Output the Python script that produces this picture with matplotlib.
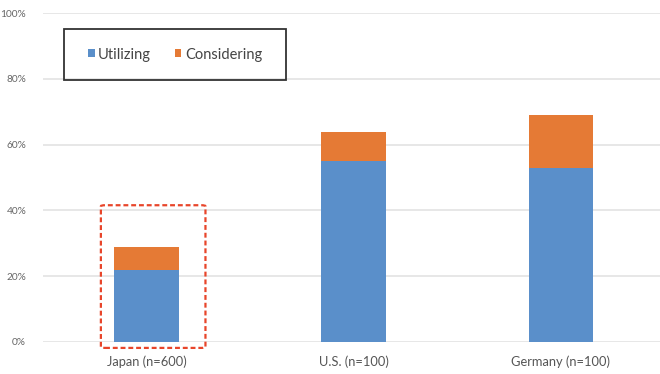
import matplotlib
matplotlib.use('Agg')
from matplotlib import pyplot as plt
from matplotlib.patches import FancyBboxPatch, Rectangle
from matplotlib.ticker import PercentFormatter
import numpy

countries = ['Japan (n=600)', 'U.S. (n=100)', 'Germany (n=100)']
utilizing = [22, 55, 53]
considering = [7, 9, 16]
yticks = [0, 20, 40, 60, 80, 100]

BLUE = '#5A8FCA'
ORANGE = '#E57A35'


def main():
    plt.rcParams['font.family'] = ['Lato', 'DejaVu Sans']
    fig = plt.figure(figsize=(6.6, 3.74), dpi=100)
    ax = fig.add_axes([0.065, 0.0856, 0.935, 0.879])

    x = numpy.arange(len(countries))
    ax.bar(x, utilizing, width=0.31, color=BLUE, label='Utilizing', zorder=3)
    ax.bar(x, considering, width=0.31, bottom=utilizing, color=ORANGE,
           label='Considering', zorder=3)

    ax.set_xlim(-0.5, 2.48)
    ax.set_ylim(0, 100)
    ax.set_yticks(yticks)
    ax.yaxis.set_major_formatter(PercentFormatter(decimals=0))
    ax.grid(axis='y', color='#E3E3E3', linewidth=1.2, zorder=0)
    for side in ['top', 'right', 'left', 'bottom']:
        ax.spines[side].set_visible(False)
    ax.tick_params(axis='y', length=0, labelsize=7.3, labelcolor='#666666', pad=12)
    ax.tick_params(axis='x', length=0, labelsize=9.3, labelcolor='#555555', pad=10)
    ax.set_xticks(x)
    ax.set_xticklabels(countries)

    # red dashed highlight round the Japan bar
    box = FancyBboxPatch((-0.22, -1.8), 0.505, 43.4,
                         boxstyle='round,pad=0,rounding_size=0.02',
                         mutation_aspect=15,
                         fill=False, edgecolor='#E8452A', linestyle=(0, (2.2, 1.3)),
                         linewidth=1.6, clip_on=False, zorder=4)
    ax.add_patch(box)

    # legend with its own square frame
    fx, fy, fw, fh = 64 / 660, 1 - 80 / 374, 222 / 660, 51 / 374
    fig.patches.append(Rectangle((fx, fy), fw, fh, transform=fig.transFigure,
                                 fill=False, edgecolor='#333333', linewidth=1.3,
                                 zorder=5))
    leg = ax.legend(loc='center', bbox_to_anchor=(fx + fw / 2, fy + fh / 2),
                    bbox_transform=fig.transFigure, ncol=2, frameon=False,
                    fontsize=10.5, handlelength=0.45, handleheight=0.45,
                    handletextpad=0.25, columnspacing=1.6)
    for t in leg.get_texts():
        t.set_color('#444444')

    fig.savefig('out.png', dpi=100)


if __name__ == '__main__':
    main()
